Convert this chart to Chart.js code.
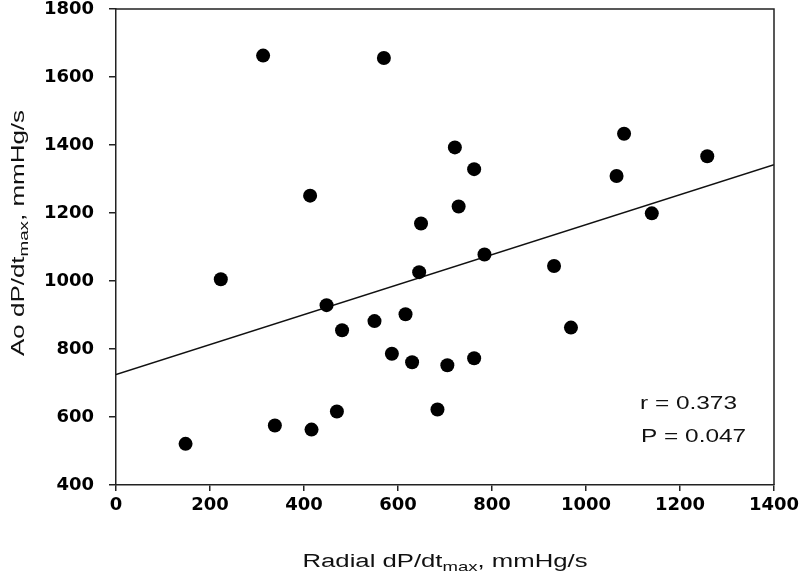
<!DOCTYPE html>
<html><head><meta charset="utf-8">
<script src="https://cdn.jsdelivr.net/npm/chart.js@4/dist/chart.umd.min.js"></script>
<style>html,body{margin:0;padding:0;background:#fff}#wrap{width:800px;height:580px}</style>
</head><body><div id="wrap"><canvas id="c" width="800" height="580"></canvas></div>
<script>
// ---- data ----
const radialX = [148,223,313,338,413,416,448,470,481,550,570,587,616,630,645,649,684,705,721,729,762,762,784,932,968,1065,1081,1140,1258];
const aoY     = [521,1005,1663,575,1251,563,929,616,855,882,1656,786,902,761,1026,1169,622,752,1393,1219,1329,773,1078,1044,863,1309,1433,1199,1367];
const fitX = [0, 1400];
const fitY = [725, 1342];
const xTicks = [0,200,400,600,800,1000,1200,1400];
const yTicks = [400,600,800,1000,1200,1400,1600,1800];
const xTitleParts = ['Radial dP/dt', 'max', ', mmHg/s'];
const yTitleParts = ['Ao dP/dt', 'max', ', mmHg/s'];
const statLines = ['r = 0.373', 'P = 0.047'];

const AXIS = '#222';
const FONT = 'DejaVu Sans';
const TFONT = 'Liberation Sans';

function drawSubTitle(ctx, parts, size, subSize, targetLen, cx, cy, rotate) {
  ctx.save();
  ctx.font = size + 'px "' + TFONT + '"';
  const w1 = ctx.measureText(parts[0]).width;
  const w3 = ctx.measureText(parts[2]).width;
  ctx.font = subSize + 'px "' + TFONT + '"';
  const w2 = ctx.measureText(parts[1]).width;
  const total = w1 + w2 + w3;
  const sx = targetLen / total;
  ctx.translate(cx, cy);
  if (rotate) ctx.rotate(-Math.PI / 2);
  ctx.scale(sx, 1);
  ctx.fillStyle = '#111';
  ctx.textBaseline = 'alphabetic';
  ctx.textAlign = 'left';
  let x = -total / 2;
  ctx.font = size + 'px "' + TFONT + '"';
  ctx.fillText(parts[0], x, 0); x += w1;
  ctx.font = subSize + 'px "' + TFONT + '"';
  ctx.fillText(parts[1], x, 4); x += w2;
  ctx.font = size + 'px "' + TFONT + '"';
  ctx.fillText(parts[2], x, 0);
  ctx.restore();
}

const decor = {
  id: 'decor',
  afterDraw(chart) {
    const ctx = chart.ctx, a = chart.chartArea;
    ctx.save();
    ctx.strokeStyle = AXIS;
    ctx.lineWidth = 1.5;
    ctx.beginPath();
    ctx.moveTo(a.left, a.top); ctx.lineTo(a.right, a.top); ctx.lineTo(a.right, a.bottom);
    ctx.stroke();
    ctx.restore();
    drawSubTitle(ctx, xTitleParts, 18, 13, 285, (a.left + a.right) / 2, 567, false);
    drawSubTitle(ctx, yTitleParts, 18, 13, 246, 24, 233, true);
    // stats text
    ctx.save();
    ctx.font = '19px "' + TFONT + '"';
    ctx.fillStyle = '#111';
    ctx.textBaseline = 'alphabetic';
    const sx = 97 / ctx.measureText(statLines[0]).width;
    ctx.translate(640, 409); ctx.scale(sx, 1);
    ctx.fillText(statLines[0], 0, 0);
    ctx.fillText(statLines[1], 1 / sx, 33);
    ctx.restore();
  }
};

new Chart(document.getElementById('c'), {
  type: 'scatter',
  data: {
    datasets: [
      {
        type: 'scatter',
        data: radialX.map((x, i) => ({ x: x, y: aoY[i] })),
        backgroundColor: '#000', borderWidth: 0, pointRadius: 7, pointHoverRadius: 7
      },
      {
        type: 'line',
        data: fitX.map((x, i) => ({ x: x, y: fitY[i] })),
        borderColor: '#111', borderWidth: 1.5, pointRadius: 0, fill: false, tension: 0
      }
    ]
  },
  options: {
    responsive: false, animation: false, devicePixelRatio: 1,
    layout: { padding: { left: 0, top: 9, right: 26, bottom: 0 } },
    plugins: { legend: { display: false }, tooltip: { enabled: false } },
    scales: {
      x: {
        type: 'linear', min: 0, max: 1400,
        afterBuildTicks: s => { s.ticks = xTicks.map(v => ({ value: v })); },
        afterFit: s => { s.height = 95; s.paddingLeft = 0; s.paddingRight = 0; },
        grid: { drawOnChartArea: false, drawTicks: true, tickLength: 6, color: AXIS, lineWidth: 1.5 },
        border: { display: true, color: AXIS, width: 1.5 },
        ticks: { color: '#000', padding: 5, maxRotation: 0, autoSkip: false,
          callback: v => String(v),
          font: { family: FONT, weight: 'bold', size: 18, lineHeight: 1 } }
      },
      y: {
        type: 'linear', min: 400, max: 1800,
        afterBuildTicks: s => { s.ticks = yTicks.map(v => ({ value: v })); },
        afterFit: s => { s.width = 116; s.paddingTop = 0; s.paddingBottom = 0; },
        grid: { drawOnChartArea: false, drawTicks: true, tickLength: 7, color: AXIS, lineWidth: 1.5 },
        border: { display: true, color: AXIS, width: 1.5 },
        ticks: { color: '#000', padding: 15, autoSkip: false,
          callback: v => String(v),
          font: { family: FONT, weight: 'bold', size: 18, lineHeight: 1 } }
      }
    }
  },
  plugins: [decor]
});
</script></body></html>
